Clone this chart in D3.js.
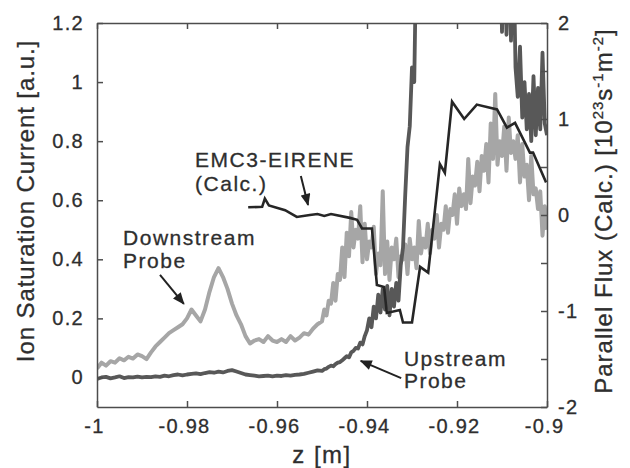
<!DOCTYPE html>
<html>
<head>
<meta charset="utf-8">
<script src="https://cdn.jsdelivr.net/npm/d3@7"></script>
<style>
body { margin: 0; background: #fff; }
text { font-family: "Liberation Sans", Arial, Helvetica, sans-serif; fill: #2e2e2e; stroke: #2e2e2e; stroke-width: 0.3px; }
.axis path, .axis line { stroke: #4d4d4d; stroke-width: 1.5; }
.axis text { font-size: 20px; letter-spacing: 1.3px; fill: #2e2e2e; }
</style>
</head>
<body>
<div id="chart"></div>
<script>
// tick labels
const zTicks = [-1, -0.98, -0.96, -0.94, -0.92, -0.9];
const currentTicks = [0, 0.2, 0.4, 0.6, 0.8, 1, 1.2];
const fluxTicks = [-2, -1, 0, 1, 2];
const fluxMinorTicks = [-1.5, -0.5, 0.5, 1.5];

// probe sampling: 0.001 m steps from -1, then 0.0005 m steps from -0.95
const zCoarse = d3.range(50).map(i => -1 + i * 0.001);
const zFine = d3.range(101).map(i => -0.95 + i * 0.0005);

// downstream probe [a.u.]
const downstreamCoarse = [
    0.03, 0.05, 0.04, 0.055, 0.05, 0.065, 0.058, 0.07, 0.064, 0.078,
    0.072, 0.062, 0.085, 0.105, 0.12, 0.135, 0.15, 0.16, 0.17, 0.18,
    0.2, 0.23, 0.21, 0.19, 0.23, 0.29, 0.34, 0.37, 0.34, 0.3,
    0.25, 0.21, 0.18, 0.14, 0.115, 0.125, 0.13, 0.12, 0.14, 0.125,
    0.12, 0.13, 0.12, 0.14, 0.125, 0.135, 0.15, 0.145, 0.165, 0.18
];
const downstreamFine = [
    0.19, 0.23, 0.21, 0.26, 0.25, 0.32, 0.26, 0.35, 0.33, 0.44,
    0.34, 0.49, 0.41, 0.56, 0.44, 0.5, 0.47, 0.58, 0.39, 0.52,
    0.4, 0.46, 0.44, 0.51, 0.35, 0.42, 0.38, 0.63, 0.35, 0.46,
    0.33, 0.44, 0.4, 0.47, 0.34, 0.41, 0.4, 0.45, 0.35, 0.47,
    0.4, 0.44, 0.37, 0.53, 0.42, 0.47, 0.44, 0.52, 0.42, 0.5,
    0.47, 0.55, 0.44, 0.52, 0.5, 0.58, 0.49, 0.57, 0.55, 0.62,
    0.52, 0.64, 0.58, 0.62, 0.57, 0.74, 0.59, 0.68, 0.65, 0.73,
    0.63, 0.75, 0.7, 0.79, 0.66, 0.86, 0.74, 0.96, 0.72, 0.8,
    0.75, 0.85, 0.7, 0.88, 0.76, 0.8, 0.74, 0.82, 0.66, 0.79,
    0.68, 0.72, 0.6, 0.75, 0.62, 0.64, 0.57, 0.63, 0.48, 0.58, 0.5
];

// upstream probe [a.u.] (off scale above 1.2 near -0.93 .. -0.91)
const upstreamCoarse = [
    -0.005, 0.0, 0.002, -0.003, 0.0, 0.004, -0.002, 0.001, 0.0, 0.003,
    0.0, 0.002, 0.001, 0.004, 0.002, 0.006, 0.004, 0.008, 0.01, 0.007,
    0.01, 0.012, 0.014, 0.011, 0.015, 0.018, 0.016, 0.02, 0.017, 0.022,
    0.025, 0.02, 0.015, 0.01, 0.008, 0.006, 0.004, 0.005, 0.006, 0.004,
    0.006, 0.005, 0.008, 0.006, 0.009, 0.01, 0.012, 0.016, 0.02, 0.024
];
const upstreamFine = [
    0.022, 0.028, 0.03, 0.036, 0.04, 0.038, 0.045, 0.05, 0.052, 0.058,
    0.065, 0.072, 0.068, 0.085, 0.09, 0.1, 0.098, 0.118, 0.112, 0.14,
    0.16, 0.2, 0.17, 0.24, 0.2, 0.28, 0.22, 0.3, 0.23, 0.31,
    0.21, 0.3, 0.24, 0.32, 0.26, 0.38, 0.44, 0.62, 0.78, 0.85,
    1.05, 1.0, 1.5, 1.5, 1.5, 1.5, 1.5, 1.5, 1.5, 1.5,
    1.5, 1.5, 1.5, 1.5, 1.5, 1.5, 1.5, 1.5, 1.5, 1.5,
    1.5, 1.5, 1.5, 1.5, 1.5, 1.5, 1.5, 1.5, 1.5, 1.5,
    1.5, 1.5, 1.5, 1.5, 1.5, 1.5, 1.5, 1.5, 1.5, 1.5,
    1.17, 1.5, 1.16, 1.5, 1.14, 1.5, 1.05, 0.95, 1.12, 0.88,
    1.0, 0.84, 0.96, 0.8, 1.02, 0.82, 0.98, 0.84, 1.1, 0.86, 0.82
];

// EMC3-EIRENE parallel flux [10^23 s^-1 m^-2]
const emcZ = [
    -0.9664, -0.9633, -0.9627, -0.9618, -0.9582, -0.9556, -0.9527, -0.951,
    -0.9495, -0.948, -0.9438, -0.9422, -0.9411, -0.9389, -0.9378, -0.9362,
    -0.9356, -0.9327, -0.932, -0.930, -0.9282, -0.9264, -0.9238, -0.9227,
    -0.9211, -0.9184, -0.9156, -0.9111, -0.9089, -0.9071, -0.9038, -0.9031, -0.9002
];
const emcFlux = [
    0.08, 0.085, 0.17, 0.1, 0.05, -0.02, 0.0, 0.01,
    -0.01, 0.01, -0.03, -0.05, -0.14, -0.14, -0.73, -0.75,
    -1.02, -0.99, -1.12, -1.12, -0.54, -0.6, 0.53, 0.44,
    1.18, 1.0, 1.15, 1.1, 0.91, 0.96, 0.65, 0.65, 0.34
];

const margin = { top: 23, right: 83, bottom: 61, left: 97 };
const width = 630 - margin.left - margin.right;
const height = 468 - margin.top - margin.bottom;

const svg = d3.select("#chart").append("svg")
    .attr("width", 630)
    .attr("height", 468);

const g = svg.append("g")
    .attr("transform", "translate(" + margin.left + "," + margin.top + ")");

const x = d3.scaleLinear().domain([-1, -0.9]).range([0, width]);
const y = d3.scaleLinear().domain([-0.1, 1.2]).range([height, 0]);
const yFlux = d3.scaleLinear().domain([-2, 2]).range([height, 0]);

const fmt = d => String(+d.toFixed(2));

svg.append("defs").append("clipPath")
    .attr("id", "plot-clip")
    .append("rect")
    .attr("width", width)
    .attr("height", height);

const arrowDefs = svg.select("defs").append("marker")
    .attr("id", "arrow")
    .attr("markerUnits", "userSpaceOnUse")
    .attr("viewBox", "0 0 12 10")
    .attr("refX", 11)
    .attr("refY", 5)
    .attr("markerWidth", 13)
    .attr("markerHeight", 10)
    .attr("orient", "auto");
arrowDefs.append("path")
    .attr("d", "M0,0 L12,5 L0,10 Z")
    .attr("fill", "#222");

// data lines
const plot = g.append("g").attr("clip-path", "url(#plot-clip)");

const probeLine = d3.line()
    .x(d => x(d[0]))
    .y(d => y(d[1]));

const downstream = zCoarse.map((z, i) => [z, downstreamCoarse[i]])
    .concat(zFine.map((z, i) => [z, downstreamFine[i]]));
const upstream = zCoarse.map((z, i) => [z, upstreamCoarse[i]])
    .concat(zFine.map((z, i) => [z, upstreamFine[i]]));

plot.append("path")
    .datum(downstream)
    .attr("fill", "none")
    .attr("stroke", "#a6a6a6")
    .attr("stroke-width", 4)
    .attr("stroke-linejoin", "round")
    .attr("d", probeLine);

plot.append("path")
    .datum(upstream)
    .attr("fill", "none")
    .attr("stroke", "#585858")
    .attr("stroke-width", 3.8)
    .attr("stroke-linejoin", "round")
    .attr("d", probeLine);

plot.append("path")
    .datum(emcZ.map((z, i) => [z, emcFlux[i]]))
    .attr("fill", "none")
    .attr("stroke", "#262626")
    .attr("stroke-width", 2.6)
    .attr("stroke-linejoin", "miter")
    .attr("d", d3.line().x(d => x(d[0])).y(d => yFlux(d[1])));

// axes (ticks point inward on all four sides)
g.append("g")
    .attr("class", "axis")
    .call(d3.axisLeft(y).tickValues(currentTicks).tickFormat(fmt)
        .tickSizeInner(-6).tickSizeOuter(0).tickPadding(13));

g.append("g")
    .attr("class", "axis")
    .attr("transform", "translate(0," + height + ")")
    .call(d3.axisBottom(x).tickValues(zTicks).tickFormat(fmt)
        .tickSizeInner(-6).tickSizeOuter(0).tickPadding(12))
    .selectAll("text")
    .attr("dx", "-3");

g.append("g")
    .attr("class", "axis")
    .call(d3.axisTop(x).tickValues(zTicks).tickFormat("")
        .tickSizeInner(-6).tickSizeOuter(0));

g.append("g")
    .attr("class", "axis")
    .attr("transform", "translate(" + width + ",0)")
    .call(d3.axisRight(yFlux).tickValues(fluxTicks).tickFormat(fmt)
        .tickSizeInner(-6).tickSizeOuter(0).tickPadding(11));

g.append("g")
    .attr("class", "axis")
    .attr("transform", "translate(" + width + ",0)")
    .call(d3.axisRight(yFlux).tickValues(fluxMinorTicks).tickFormat("")
        .tickSizeInner(-6).tickSizeOuter(0))
    .select(".domain").remove();

// axis titles
svg.append("text")
    .attr("x", margin.left + width / 2)
    .attr("y", 463)
    .attr("text-anchor", "middle")
    .attr("font-size", "24px")
    .attr("letter-spacing", "1.5px")
    .text("z [m]");

svg.append("text")
    .attr("transform", "translate(34,201) rotate(-90)")
    .attr("text-anchor", "middle")
    .attr("font-size", "24px")
    .attr("letter-spacing", "0.9px")
    .text("Ion Saturation Current [a.u.]");

const rightTitle = svg.append("text")
    .attr("transform", "translate(612,211) rotate(-90)")
    .attr("text-anchor", "middle")
    .attr("font-size", "24px")
    .attr("letter-spacing", "1px");
rightTitle.append("tspan").text("Parallel Flux (Calc.) [10");
rightTitle.append("tspan").attr("dy", -9).attr("font-size", "15px").text("23");
rightTitle.append("tspan").attr("dy", 9).text("s");
rightTitle.append("tspan").attr("dy", -9).attr("font-size", "15px").text("-1");
rightTitle.append("tspan").attr("dy", 9).text("m");
rightTitle.append("tspan").attr("dy", -9).attr("font-size", "15px").text("-2");
rightTitle.append("tspan").attr("dy", 9).text("]");

// annotations, placed in data coordinates (left axis)
const labels = [
    { z: -0.9782, v: 0.7125, text: "EMC3-EIRENE" },
    { z: -0.9782, v: 0.631, text: "(Calc.)" },
    { z: -0.9942, v: 0.4485, text: "Downstream" },
    { z: -0.9942, v: 0.3706, text: "Probe" },
    { z: -0.9318, v: 0.0389, text: "Upstream" },
    { z: -0.9318, v: -0.0356, text: "Probe" }
];
const arrows = [
    { z0: -0.9547, v0: 0.682, z1: -0.9531, v1: 0.584 },
    { z0: -0.986, v0: 0.347, z1: -0.9807, v1: 0.249 },
    { z0: -0.9324, v0: -0.002, z1: -0.9414, v1: 0.056 }
];

g.selectAll(".note")
    .data(labels)
    .enter()
    .append("text")
    .attr("class", "note")
    .attr("x", d => x(d.z))
    .attr("y", d => y(d.v))
    .attr("font-size", "21px")
    .attr("letter-spacing", "1.5px")
    .text(d => d.text);

g.selectAll(".note-arrow")
    .data(arrows)
    .enter()
    .append("line")
    .attr("class", "note-arrow")
    .attr("x1", d => x(d.z0))
    .attr("y1", d => y(d.v0))
    .attr("x2", d => x(d.z1))
    .attr("y2", d => y(d.v1))
    .attr("stroke", "#222")
    .attr("stroke-width", 2)
    .attr("marker-end", "url(#arrow)");
</script>
</body>
</html>
